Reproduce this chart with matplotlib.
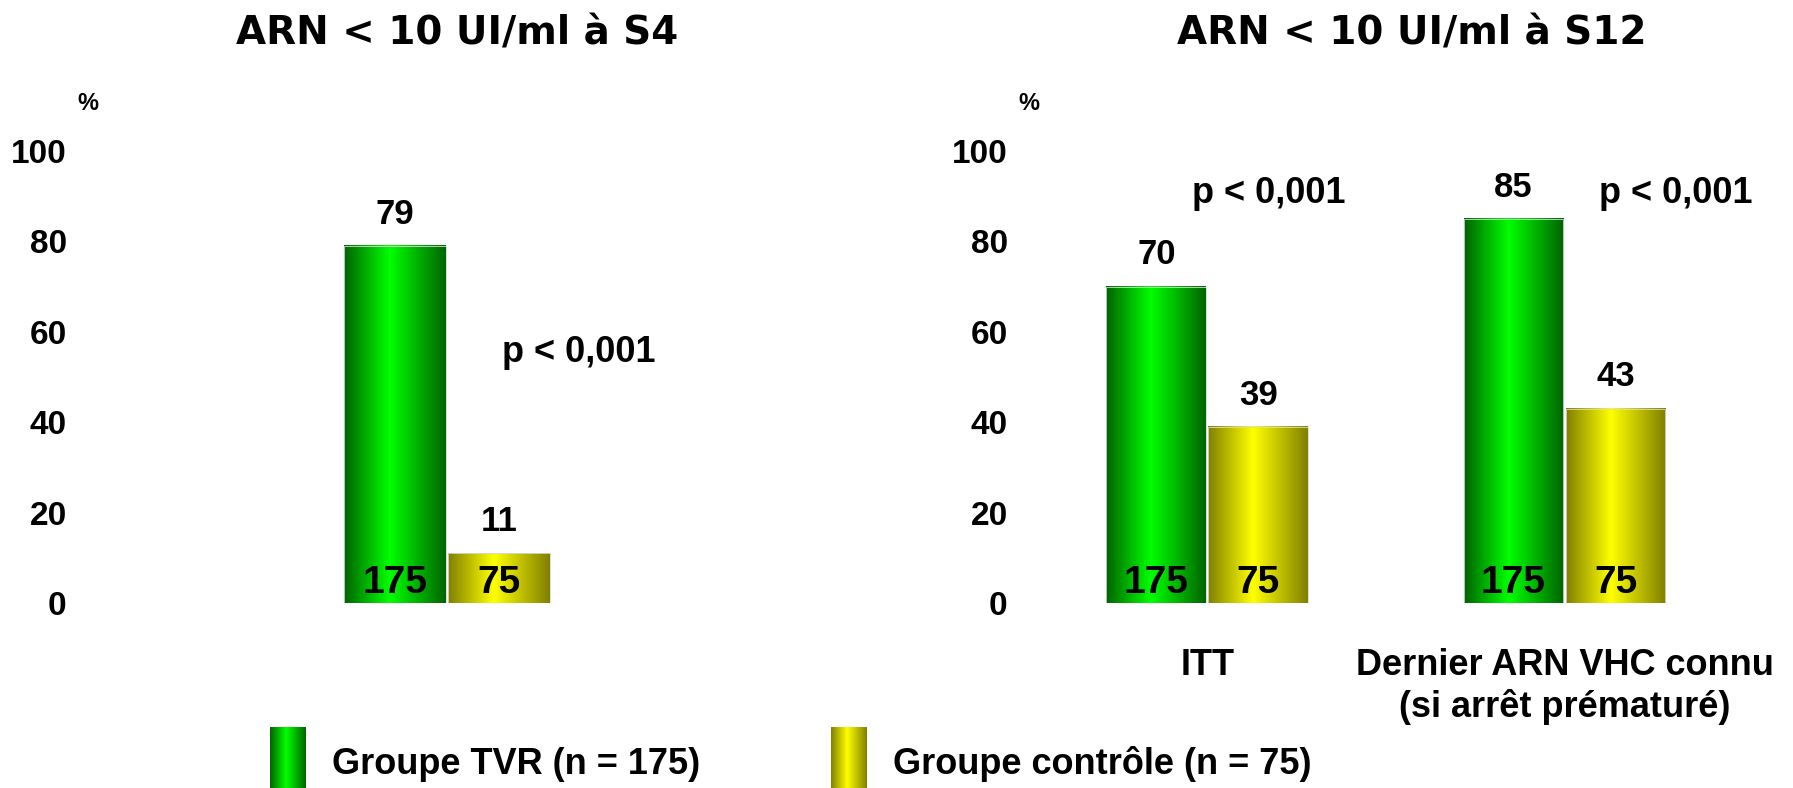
import matplotlib.pyplot as plt
import numpy as np
from matplotlib.colors import LinearSegmentedColormap

# data
titles = ['ARN < 10 UI/ml à S4', 'ARN < 10 UI/ml à S12']
left_tvr = [79]
left_ctrl = [11]
right_groups = ['ITT', 'Dernier ARN VHC connu\n(si arrêt prématuré)']
right_tvr = [70, 85]
right_ctrl = [39, 43]
n_tvr = 175
n_ctrl = 75
p_text = 'p < 0,001'
legend_labels = ['Groupe TVR (n = 175)', 'Groupe contrôle (n = 75)']
yticks = [0, 20, 40, 60, 80, 100]

plt.rcParams['font.family'] = ['Liberation Sans', 'DejaVu Sans']
plt.rcParams['font.weight'] = 'bold'

green_cmap = LinearSegmentedColormap.from_list(
    'g', [(0, '#006400'), (0.45, '#00ff00'), (1, '#006400')])
yellow_cmap = LinearSegmentedColormap.from_list(
    'y', [(0, '#808000'), (0.45, '#ffff00'), (1, '#808000')])
grad = np.linspace(0, 1, 256).reshape(1, -1)

W, H = 1793, 788
fig = plt.figure(figsize=(W / 100, H / 100), dpi=100)


def px_axes(x0, x1, y_top, y_bot):
    return fig.add_axes([x0 / W, 1 - y_bot / H, (x1 - x0) / W, (y_bot - y_top) / H])


def gradient_bars(ax, xs, heights, cmap):
    bars = ax.bar(xs, heights, width=0.98, color='none',
                  edgecolor='#d8d8d8', linewidth=0.6, zorder=3)
    for b in bars:
        x, y = b.get_x(), b.get_y()
        ax.imshow(grad, cmap=cmap, aspect='auto', zorder=2,
                  extent=(x, x + b.get_width(), y, y + b.get_height()))
    return bars


def style_axis(ax, xlim):
    ax.set_xlim(*xlim)
    ax.set_ylim(0, 100)
    ax.set_yticks(yticks)
    ax.set_yticklabels([str(t) for t in yticks], fontsize=24, fontweight='bold')
    ax.tick_params(axis='y', length=0, pad=6)
    ax.set_xticks([])
    for s in ax.spines.values():
        s.set_visible(False)
    ax.patch.set_alpha(0)


VAL_FS = 25
N_FS = 28
TXT_FS = 26

# left panel
ax1 = px_axes(75, 760, 151, 603)
xg = [-0.5]
xc = [0.5]
gradient_bars(ax1, xg, left_tvr, green_cmap)
gradient_bars(ax1, xc, left_ctrl, yellow_cmap)
style_axis(ax1, (-3.577, 3.01))
for x, v in zip(xg, left_tvr):
    ax1.text(x, v + 7, str(v), ha='center', va='center', fontsize=VAL_FS, fontweight='bold')
    ax1.text(x, 4.5, str(n_tvr), ha='center', va='center', fontsize=N_FS, fontweight='bold', zorder=4)
for x, v in zip(xc, left_ctrl):
    ax1.text(x, v + 7, str(v), ha='center', va='center', fontsize=VAL_FS, fontweight='bold')
    ax1.text(x, 4.5, str(n_ctrl), ha='center', va='center', fontsize=N_FS, fontweight='bold', zorder=4)
ax1.text(1.27, 55.5, p_text, ha='center', va='center', fontsize=TXT_FS, fontweight='bold')
ax1.text(-3.45, 110.5, '%', ha='center', va='center', fontsize=17, fontweight='bold')

# right panel
ax2 = px_axes(1016, 1793, 151, 603)
centers = np.array([0, 3.5])
p_offsets = [0.6, 1.09]
gradient_bars(ax2, centers - 0.5, right_tvr, green_cmap)
gradient_bars(ax2, centers + 0.5, right_ctrl, yellow_cmap)
style_axis(ax2, (-1.877, 5.74))
for c, vt, vc, lab, po in zip(centers, right_tvr, right_ctrl, right_groups, p_offsets):
    ax2.text(c - 0.5, vt + 7, str(vt), ha='center', va='center', fontsize=VAL_FS, fontweight='bold')
    ax2.text(c + 0.5, vc + 7, str(vc), ha='center', va='center', fontsize=VAL_FS, fontweight='bold')
    ax2.text(c - 0.5, 4.5, str(n_tvr), ha='center', va='center', fontsize=N_FS, fontweight='bold', zorder=4)
    ax2.text(c + 0.5, 4.5, str(n_ctrl), ha='center', va='center', fontsize=N_FS, fontweight='bold', zorder=4)
    ax2.text(c, -10, lab, ha='center', va='top', fontsize=TXT_FS, fontweight='bold',
             linespacing=1.2)
    ax2.text(c + po, 90.5, p_text, ha='center', va='center', fontsize=TXT_FS, fontweight='bold')
ax2.text(-1.75, 110.5, '%', ha='center', va='center', fontsize=17, fontweight='bold')

# titles
fig.text(457 / W, 1 - 34 / H, titles[0], ha='center', va='center',
         fontsize=28, fontweight='bold', family=['DejaVu Sans'])
fig.text(1412 / W, 1 - 34 / H, titles[1], ha='center', va='center',
         fontsize=28, fontweight='bold', family=['DejaVu Sans'])

# legend
for x0, cmap, label in zip([270, 831], [green_cmap, yellow_cmap], legend_labels):
    lax = px_axes(x0, x0 + 36, 727, 788)
    lax.imshow(grad, cmap=cmap, aspect='auto')
    lax.axis('off')
    fig.text((x0 + 62) / W, 1 - 764 / H, label, ha='left', va='center',
             fontsize=TXT_FS, fontweight='bold')

fig.savefig('out.png', dpi=100)
